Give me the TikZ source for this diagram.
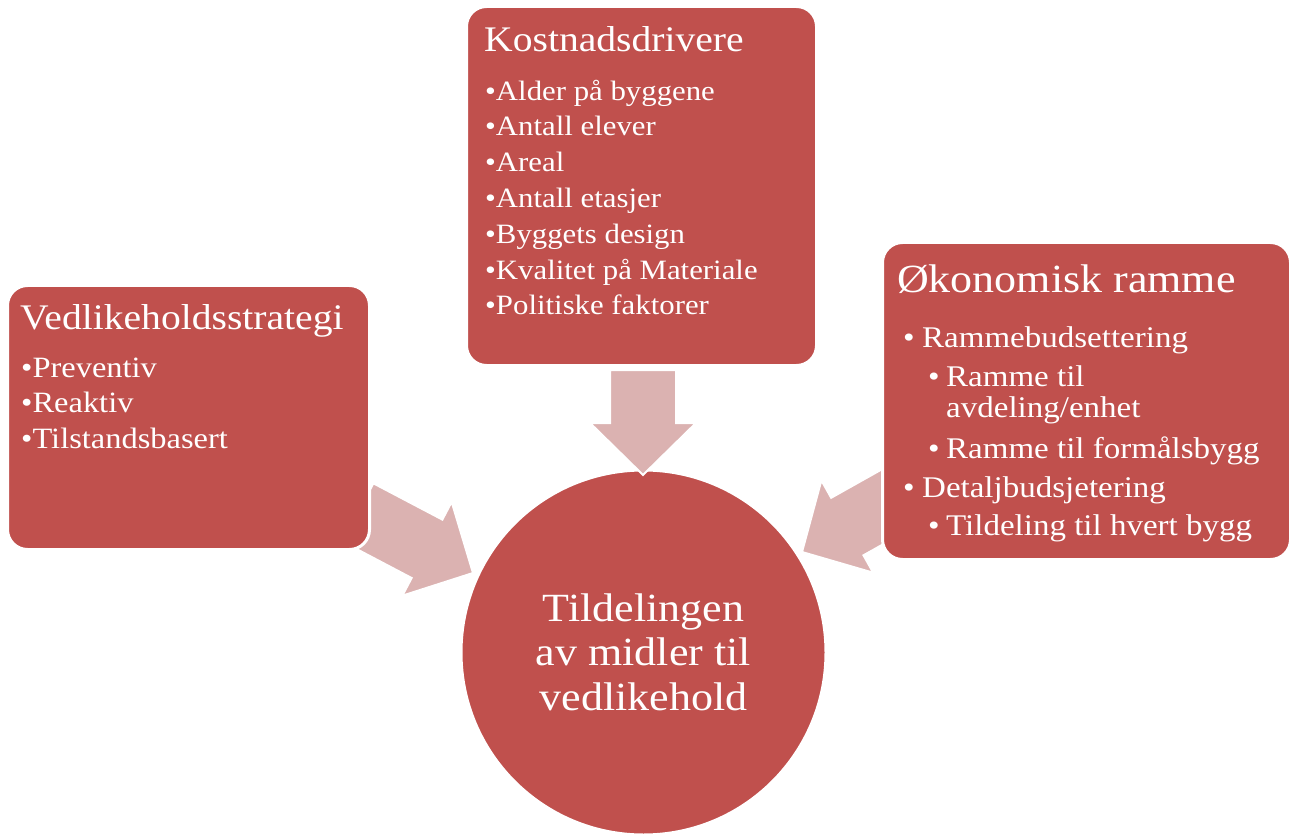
\documentclass[tikz,border=0pt]{standalone}
\usepackage{fontspec}
\setmainfont[FakeStretch=1.1]{Liberation Serif}
\usetikzlibrary{calc}

\definecolor{boxred}{RGB}{192,80,77}
\definecolor{arrowpink}{RGB}{219,178,177}

\tikzset{
  card/.style={rectangle, rounded corners=20pt, fill=boxred, draw=white,
    line width=3pt, inner sep=0pt},
  hub/.style={circle, fill=boxred, draw=white, line width=3pt, inner sep=0pt,
    minimum size=365pt},
  blockarrow/.style={fill=arrowpink, draw=white, line width=2pt, line join=miter},
  heading/.style={text=white, inner sep=0pt, anchor=base west},
  items/.style={text=white, inner sep=0pt, anchor=base west, align=left},
}

% wide block arrow from tail #1 to tip #2
\newcommand\blockarrow[2]{%
  \coordinate (ba-h) at ($(#2)!52pt!(#1)$);
  \filldraw[blockarrow]
    ($(#1)!33pt!90:(#2)$) -- ($(ba-h)!33pt!90:(#2)$) -- ($(ba-h)!53pt!90:(#2)$)
    -- (#2)
    -- ($(ba-h)!53pt!-90:(#2)$) -- ($(ba-h)!33pt!-90:(#2)$) -- ($(#1)!33pt!-90:(#2)$)
    -- cycle;
}

\begin{document}
\begin{tikzpicture}[x=1pt,y=-1pt]
\useasboundingbox (0,0) rectangle (1290,834);

% central goal (multi-line texts are placed by their last baseline)
\node[hub] (goal) at (643.5,652.5) {};
\node[text=white, align=center, inner sep=0pt, anchor=base,
      font=\fontsize{40}{44.5}\selectfont] (goaltext) at (643.5,710)
  {Tildelingen\\av midler til\\vedlikehold};

% arrow ends
\coordinate (tailL) at (358,512.5);
\coordinate (tipL)  at (473,573);
\coordinate (tailT) at (643,370);
\coordinate (tipT)  at (643,475);
\coordinate (tailR) at (915.4,488.3);
\coordinate (tipR)  at (802,552);

\blockarrow{tailL}{tipL}
\blockarrow{tailT}{tipT}
\blockarrow{tailR}{tipR}

% input boxes
\node[card, minimum width=362pt, minimum height=264pt] (strategy) at (188.5,417.5) {};
\node[card, minimum width=350pt, minimum height=359pt] (drivers) at (641.5,186) {};
\node[card, minimum width=408pt, minimum height=317pt] (frame) at (1086.5,401) {};

% strategy text
\node[heading, font=\fontsize{36}{40}\selectfont] (strategyhead) at (20,329)
  {Vedlikeholdsstrategi};
\node[items, font=\fontsize{29.5}{35.5}\selectfont] (strategylist) at (21,448)
  {•Preventiv\\•Reaktiv\\•Tilstandsbasert};

% cost driver text
\node[heading, font=\fontsize{36}{40}\selectfont] (drivershead) at (484,52)
  {Kostnadsdrivere};
\node[items, font=\fontsize{28}{35.8}\selectfont] (driverslist) at (485,315)
  {•Alder på byggene\\•Antall elever\\•Areal\\•Antall etasjer\\%
   •Byggets design\\•Kvalitet på Materiale\\•Politiske faktorer};

% economic frame text
\node[heading, font=\fontsize{40}{44}\selectfont] (framehead) at (897,293)
  {Økonomisk ramme};
\node[items, font=\fontsize{30}{31}\selectfont] (framelist) at (903,535)
  {\makebox[19pt][l]{•}Rammebudsettering\\[8.5pt]
   \hspace*{25pt}\makebox[18pt][l]{•}Ramme til\\
   \hspace*{43pt}avdeling/enhet\\[9.5pt]
   \hspace*{25pt}\makebox[18pt][l]{•}Ramme til formålsbygg\\[8pt]
   \makebox[19pt][l]{•}Detaljbudsjetering\\[7pt]
   \hspace*{25pt}\makebox[18pt][l]{•}Tildeling til hvert bygg};
\end{tikzpicture}
\end{document}
